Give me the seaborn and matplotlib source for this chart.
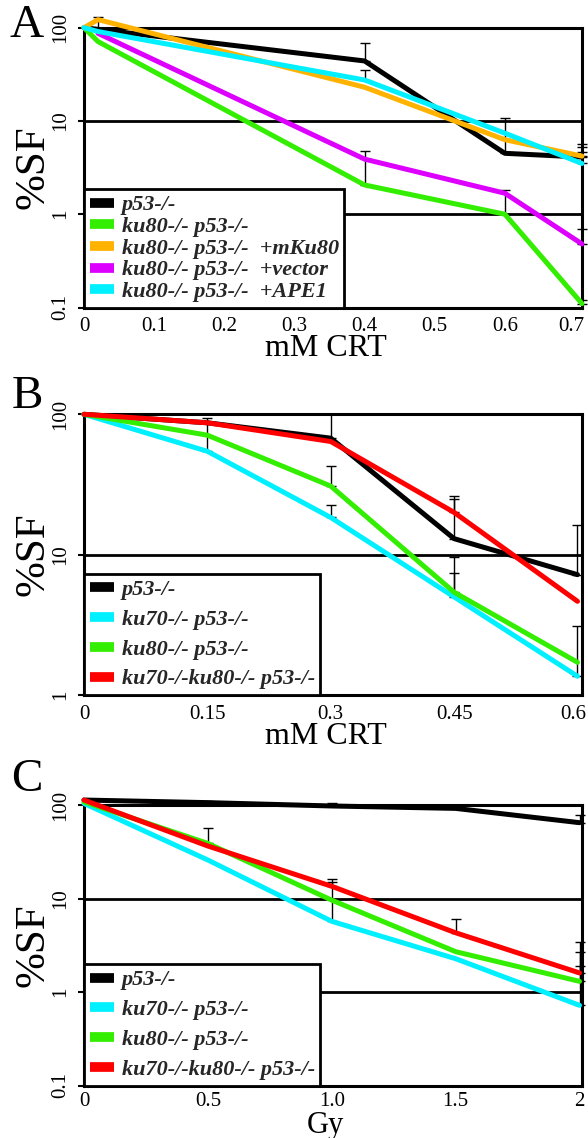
import numpy as np
import pandas as pd
import matplotlib
matplotlib.use('Agg')
import matplotlib.pyplot as plt
import matplotlib.transforms as mtransforms
import seaborn as sns
from matplotlib.lines import Line2D
from matplotlib.ticker import FixedLocator, NullLocator

# ---- panel A : mM CRT ----
a_names = ['p53-/-', 'ku80-/- p53-/-', 'ku80-/- p53-/-  +mKu80',
           'ku80-/- p53-/-  +vector', 'ku80-/- p53-/-  +APE1']
a_colors = ['#000000', '#33ee00', '#ffb300', '#dd00ff', '#00f0ff']
a_x = [[0, 0.02, 0.4, 0.6, 0.71],
       [0, 0.02, 0.4, 0.6, 0.71],
       [0, 0.02, 0.4, 0.6, 0.71],
       [0.02, 0.4, 0.6, 0.71],
       [0, 0.02, 0.4, 0.6, 0.71]]
a_y = [[100, 96, 44, 4.5, 4.1],
       [100, 71, 2.06, 1.0, 0.11],
       [100, 122, 23, 6.3, 4.2],
       [87, 3.9, 1.68, 0.48],
       [100, 91, 27.5, 7.4, 3.5]]
# error bars: (series, x, upper value)
a_err = [(0, 0.02, 131), (0, 0.4, 68), (0, 0.6, 10.7), (0, 0.71, 5.7),
         (4, 0.4, 35), (2, 0.71, 5.2), (4, 0.71, 4.7),
         (1, 0.4, 4.8), (1, 0.6, 1.8), (3, 0.71, 0.69), (1, 0.71, 0.12)]
a_ticks = [0, 0.1, 0.2, 0.3, 0.4, 0.5, 0.6, 0.7]
a_ticklabels = ['0', '0.1', '0.2', '0.3', '0.4', '0.5', '0.6', '0.7']

# ---- panel B : mM CRT ----
b_names = ['p53-/-', 'ku70-/- p53-/-', 'ku80-/- p53-/-', 'ku70-/-ku80-/- p53-/-']
b_colors = ['#000000', '#00f0ff', '#33ee00', '#ff0000']
b_dose = [0, 0.15, 0.3, 0.45, 0.6]
b_y = [[100, 87, 67.6, 13, 7.2],
       [100, 54.5, 18.4, 5.0, 1.36],
       [100, 71, 30.8, 5.4, 1.71],
       [100, 87, 64, 20, 4.65]]
b_err = [(1, 0.15, 94), (0, 0.3, 100), (2, 0.3, 43), (1, 0.3, 22.4),
         (3, 0.45, 26), (0, 0.45, 25), (2, 0.45, 9.6), (1, 0.45, 7.4),
         (0, 0.6, 16.3), (1, 0.6, 3.1)]
b_ticks = [0, 0.15, 0.3, 0.45, 0.6]
b_ticklabels = ['0', '0.15', '0.3', '0.45', '0.6']

# ---- panel C : Gy ----
c_names = b_names
c_colors = b_colors
c_dose = [0, 0.5, 1.0, 1.5, 2.0]
c_y = [[113, 106, 97.6, 92, 64.7],
       [104, 25.8, 5.7, 2.27, 0.72],
       [108, 38.8, 9.6, 2.7, 1.3],
       [113, 36.4, 13.5, 4.3, 1.6]]
c_err = [(0, 0.5, 111), (0, 1.0, 104), (0, 2.0, 79), (2, 0.5, 57),
         (3, 1.0, 16), (1, 1.0, 15), (3, 1.5, 6.0),
         (3, 2.0, 3.4), (2, 2.0, 2.7), (1, 2.0, 1.9)]
c_ticks = [0, 0.5, 1.0, 1.5, 2.0]
c_ticklabels = ['0', '0.5', '1.0', '1.5', '2']

sns.set_theme(style='white')
plt.rcParams['font.family'] = ['Liberation Serif', 'DejaVu Serif']

fig = plt.figure(figsize=(5.88, 11.38), dpi=100)
W, H = 588, 1138


def px_axes(left, top, right, bottom):
    return fig.add_axes([left / W, 1 - bottom / H, (right - left) / W, (bottom - top) / H])


def draw_panel(ax, names, colors, xs, ys, errs, ylim, xlim, ticks, ticklabels,
               xlabel, xlab_top, xlab_size, tick_pad, spacing, shift_last):
    rows = []
    for n, xx, yy in zip(names, xs, ys):
        for a, b in zip(xx, yy):
            rows.append({'dose': a, 'sf': b, 'line': n})
    df = pd.DataFrame(rows)
    ax.set_yscale('log')
    for (i, x, up) in errs:
        j = list(xs[i]).index(x)
        y = ys[i][j]
        ax.errorbar([x], [y], yerr=[[0], [up - y]], fmt='none', ecolor='black',
                    elinewidth=1.0, capsize=3.5, capthick=1.0, zorder=2, clip_on=False)
    sns.lineplot(data=df, x='dose', y='sf', hue='line', hue_order=names,
                 palette=dict(zip(names, colors)), estimator=None, sort=False,
                 lw=3.6, legend=False, ax=ax, zorder=3, clip_on=False)
    ax.set_xlim(*xlim)
    ax.set_ylim(*ylim)
    dec = [10.0 ** k for k in range(int(np.log10(ylim[0])), int(np.log10(ylim[1])) + 1)]
    ax.yaxis.set_major_locator(FixedLocator(dec))
    ax.yaxis.set_minor_locator(NullLocator())
    ax.set_yticklabels(['%g' % d for d in dec])
    ax.set_xticks(ticks)
    ax.set_xticklabels(ticklabels)
    ax.tick_params(axis='y', which='major', left=True, length=4, width=1.5,
                   direction='out', pad=6, labelsize=15, labelrotation=90, colors='black')
    ax.tick_params(axis='x', length=0, pad=tick_pad, labelsize=15, colors='black')
    for lab in ax.get_yticklabels():
        lab.set_va('center')
    if shift_last:
        last = ax.get_xticklabels()[-1]
        last.set_ha('right')
        last.set_transform(last.get_transform() +
                           mtransforms.ScaledTranslation(0.09, 0, fig.dpi_scale_trans))
    ax.yaxis.grid(True, color='black', lw=2.0)
    ax.xaxis.grid(False)
    for s in ax.spines.values():
        s.set_color('black')
        s.set_linewidth(2.2)
    ax.set_ylabel('%SF', fontsize=31, color='black')
    ax.yaxis.label.set_va('center')
    ax.yaxis.set_label_coords(-0.102, 0.5)
    ax.set_xlabel(xlabel, fontsize=xlab_size, color='black')
    ax.xaxis.label.set_va('top')
    ax.xaxis.set_label_coords(0.485, xlab_top)
    handles = [Line2D([0], [0], color=c, lw=7, solid_capstyle='butt') for c in colors]
    leg = ax.legend(handles, names, loc='lower left', bbox_to_anchor=(0, 0),
                    borderaxespad=0, frameon=True, fancybox=False, framealpha=1,
                    edgecolor='black', handlelength=1.1, handletextpad=0.35,
                    borderpad=0.25, labelspacing=spacing,
                    prop={'family': 'Liberation Serif', 'weight': 'bold',
                          'style': 'italic', 'size': 16})
    leg.get_frame().set_linewidth(2.0)
    leg.set_zorder(5)


ax_a = px_axes(84, 27.7, 582, 307.5)
draw_panel(ax_a, a_names, a_colors, a_x, a_y, a_err, (0.1, 100), (0, 0.71),
           a_ticks, a_ticklabels, 'mM CRT', -(334 - 307.5) / 280, 23, 7, 0.05, True)

ax_b = px_axes(84, 414.3, 582, 695)
draw_panel(ax_b, b_names, b_colors, [b_dose] * 4, b_y, b_err, (1, 100), (0, 0.6055),
           b_ticks, b_ticklabels, 'mM CRT', -(722 - 695) / 281, 23, 7, 0.42, True)

ax_c = px_axes(84, 805, 582, 1085.5)
draw_panel(ax_c, c_names, c_colors, [c_dose] * 4, c_y, c_err, (0.1, 100), (0, 2.01),
           c_ticks, c_ticklabels, 'Gy', -(1111 - 1085.5) / 280.5, 22, 5, 0.42, False)

for letter, yc in [('A', 26), ('B', 397), ('C', 780)]:
    fig.text(27 / W, 1 - yc / H, letter, fontsize=34, ha='center', va='center',
             color='black')

fig.savefig('out.png', dpi=100)
